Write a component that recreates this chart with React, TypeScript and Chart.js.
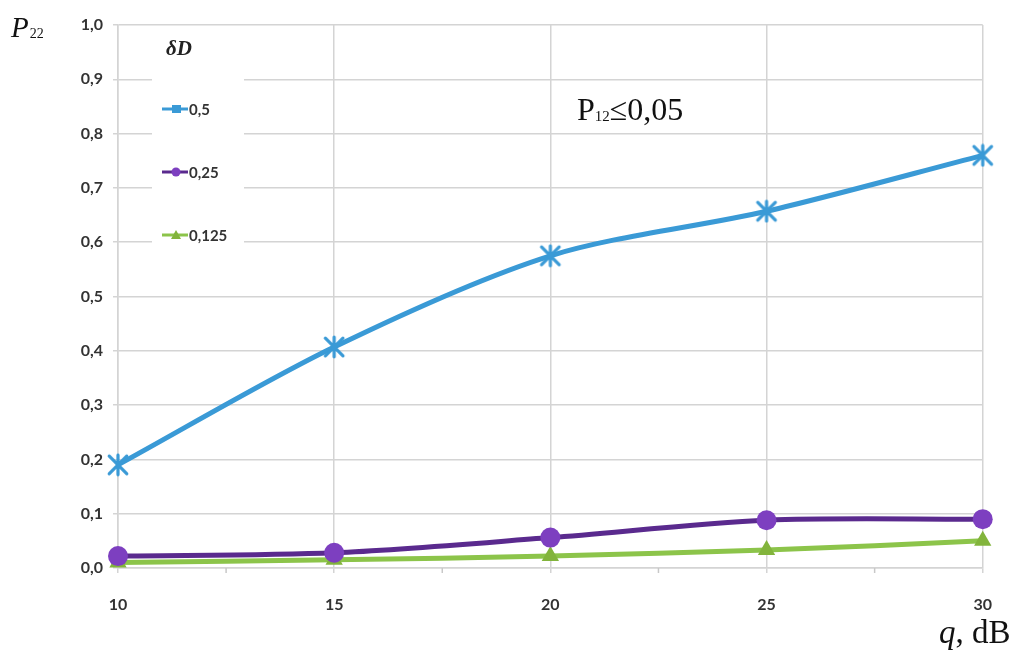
import React, { useEffect, useRef } from "react";
import { Chart, registerables } from "chart.js";

Chart.register(...registerables);

const qValues = [10, 15, 20, 25, 30];
const seriesHalf = [0.19, 0.407, 0.575, 0.657, 0.76];
const seriesQuarter = [0.022, 0.028, 0.056, 0.088, 0.09];
const seriesEighth = [0.01, 0.015, 0.022, 0.033, 0.05];
const legendLabels = ["0,5", "0,25", "0,125"];
const legendTitle = "δD";
const annotationMain = "P";
const annotationSub = "12";
const annotationRest = "≤0,05";
const yTitleMain = "P";
const yTitleSub = "22";
const xTitleItalic = "q";
const xTitleRest = ", dB";

const BLUE = "#3a9ad6";
const PURPLE_LINE = "#5a2a8e";
const PURPLE_PT = "#7d3fc0";
const GREEN = "#8cc44a";
const GREEN_PT = "#82b43c";

function makeStar(size: number, color: string, lw: number) {
  const c = document.createElement("canvas");
  c.width = size;
  c.height = size;
  const ctx = c.getContext("2d")!;
  ctx.strokeStyle = color;
  ctx.lineWidth = lw;
  ctx.lineCap = "round";
  const m = lw;
  ctx.beginPath();
  ctx.moveTo(m, m);
  ctx.lineTo(size - m, size - m);
  ctx.moveTo(size - m, m);
  ctx.lineTo(m, size - m);
  ctx.moveTo(size / 2, m - 1);
  ctx.lineTo(size / 2, size - m + 1);
  ctx.stroke();
  return c;
}

function toPts(vals: number[]) {
  return qValues.map((x, i) => ({ x, y: vals[i] }));
}

export default function App() {
  const ref = useRef<HTMLCanvasElement | null>(null);
  useEffect(() => {
    if (!ref.current) return;
    const star = makeStar(24, BLUE, 3.2);

    const overlay = {
      id: "overlay",
      afterDraw(chart: any) {
        const ctx = chart.ctx as CanvasRenderingContext2D;
        const xs = chart.scales.x;
        const ys = chart.scales.y;
        ctx.save();
        ctx.strokeStyle = "#c8c8c8";
        ctx.lineWidth = 1.5;
        for (let i = 0; i < qValues.length - 1; i++) {
          const mid = (qValues[i] + qValues[i + 1]) / 2;
          const px = xs.getPixelForValue(mid);
          ctx.beginPath();
          ctx.moveTo(px, ys.bottom);
          ctx.lineTo(px, ys.bottom + 5);
          ctx.stroke();
        }
        ctx.fillStyle = "#ffffff";
        ctx.fillRect(152, 30, 92, 225);
        ctx.fillStyle = "#222";
        ctx.font = "italic bold 21px 'Liberation Serif'";
        ctx.textBaseline = "middle";
        ctx.textAlign = "left";
        ctx.fillText(legendTitle, 166, 50);
        const rows = [109, 172, 235];
        const colors = [BLUE, PURPLE_LINE, GREEN];
        rows.forEach((y, i) => {
          ctx.strokeStyle = colors[i];
          ctx.lineWidth = 3;
          ctx.beginPath();
          ctx.moveTo(162, y);
          ctx.lineTo(188, y);
          ctx.stroke();
          if (i === 0) {
            ctx.fillStyle = BLUE;
            ctx.fillRect(172, y - 4, 9, 8);
          } else if (i === 1) {
            ctx.fillStyle = PURPLE_PT;
            ctx.beginPath();
            ctx.arc(176, y, 4.5, 0, Math.PI * 2);
            ctx.fill();
          } else {
            ctx.fillStyle = GREEN_PT;
            ctx.beginPath();
            ctx.moveTo(176, y - 5);
            ctx.lineTo(181, y + 4);
            ctx.lineTo(171, y + 4);
            ctx.closePath();
            ctx.fill();
          }
          ctx.fillStyle = "#333";
          ctx.font = "bold 15px Lato";
          ctx.fillText(legendLabels[i], 189, y + 1);
        });
        ctx.fillStyle = "#111";
        ctx.textBaseline = "alphabetic";
        ctx.font = "32px 'Liberation Serif'";
        ctx.fillText(annotationMain, 577, 120);
        let w = ctx.measureText(annotationMain).width;
        ctx.font = "15px 'Liberation Serif'";
        ctx.fillText(annotationSub, 577 + w, 121);
        const w2 = ctx.measureText(annotationSub).width;
        ctx.font = "32px 'Liberation Serif'";
        ctx.fillText(annotationRest, 577 + w + w2, 120);
        ctx.font = "italic 29px 'Liberation Serif'";
        ctx.fillText(yTitleMain, 11, 37);
        w = ctx.measureText(yTitleMain).width;
        ctx.font = "14px 'Liberation Serif'";
        ctx.fillText(yTitleSub, 11 + w + 1, 38);
        ctx.font = "italic 33px 'Liberation Serif'";
        ctx.fillText(xTitleItalic, 939, 643);
        w = ctx.measureText(xTitleItalic).width;
        ctx.font = "33px 'Liberation Serif'";
        ctx.fillText(xTitleRest, 939 + w, 643);
        ctx.restore();
      },
    };

    const chart = new Chart(ref.current, {
      type: "line",
      data: {
        datasets: [
          {
            label: legendLabels[0],
            data: toPts(seriesHalf),
            borderColor: BLUE,
            backgroundColor: BLUE,
            borderWidth: 5,
            pointStyle: star as any,
            pointRadius: 12,
            tension: 0.3,
            clip: false as any,
          },
          {
            label: legendLabels[1],
            data: toPts(seriesQuarter),
            borderColor: PURPLE_LINE,
            backgroundColor: PURPLE_PT,
            borderWidth: 5,
            pointStyle: "circle",
            pointRadius: 10,
            pointBorderWidth: 0,
            tension: 0.3,
            clip: false as any,
          },
          {
            label: legendLabels[2],
            data: toPts(seriesEighth),
            borderColor: GREEN,
            backgroundColor: GREEN_PT,
            borderWidth: 5,
            pointStyle: "triangle",
            pointRadius: 10,
            pointBorderWidth: 0,
            tension: 0.3,
            clip: false as any,
          },
        ],
      },
      options: {
        animation: false,
        responsive: false,
        layout: { padding: { left: 0, top: 25, right: 31, bottom: 0 } },
        plugins: { legend: { display: false }, tooltip: { enabled: false } },
        scales: {
          x: {
            type: "linear",
            min: 10,
            max: 30,
            afterFit: (s: any) => {
              s.height = 82;
            },
            ticks: {
              stepSize: 5,
              padding: 22,
              color: "#333",
              font: { family: "Lato", weight: "bold", size: 16 },
            },
            grid: { color: "#d4d4d4", lineWidth: 1.5, tickLength: 5 },
            border: { color: "#d4d4d4", width: 1.5 },
          },
          y: {
            min: 0,
            max: 1,
            afterFit: (s: any) => {
              s.width = 118;
            },
            ticks: {
              stepSize: 0.1,
              padding: 10,
              color: "#333",
              font: { family: "Lato", weight: "bold", size: 16 },
              callback: (v: any) => Number(v).toFixed(1).replace(".", ","),
            },
            grid: { color: "#d4d4d4", lineWidth: 1.5, tickLength: 5 },
            border: { color: "#d4d4d4", width: 1.5 },
          },
        },
      },
      plugins: [overlay],
    });
    return () => chart.destroy();
  }, []);

  return (
    <div style={{ position: "fixed", left: 0, top: 0, width: 1014, height: 650, background: "#fff" }}>
      <canvas ref={ref} width={1014} height={650} style={{ width: 1014, height: 650 }} />
    </div>
  );
}
